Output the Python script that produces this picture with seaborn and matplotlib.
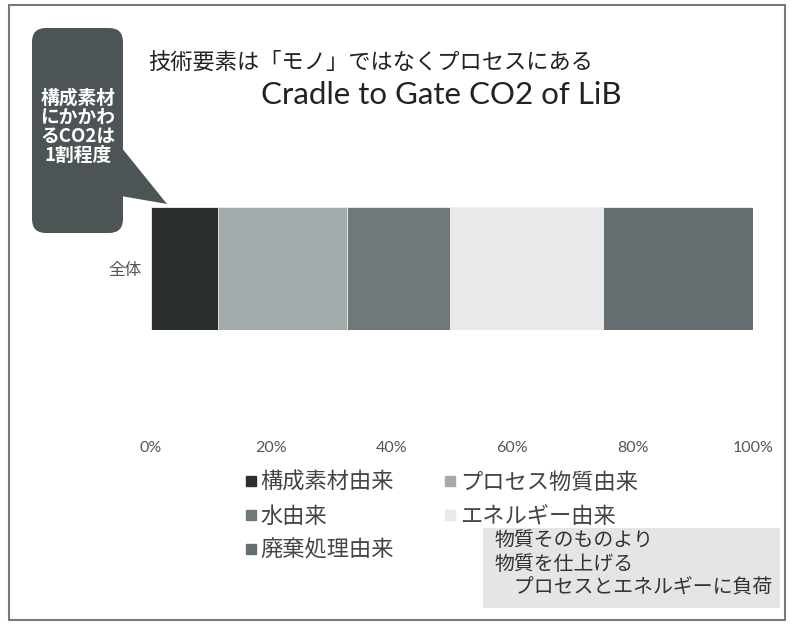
import numpy as np
import pandas as pd
import matplotlib
matplotlib.use("Agg")
import matplotlib.pyplot as plt
import seaborn as sns
from matplotlib.patches import FancyBboxPatch, Polygon, Rectangle
from matplotlib.lines import Line2D

# ---- data ----
categories = ["全体"]
series_names = ["構成素材由来", "プロセス物質由来", "水由来", "エネルギー由来", "廃棄処理由来"]
series_values = [11.1, 21.5, 17.0, 25.4, 25.0]
series_colors = ["#2b302e", "#a3abad", "#6f7979", "#e9e9eb", "#656e70"]
tick_values = [0, 20, 40, 60, 80, 100]
tick_labels = ["0%", "20%", "40%", "60%", "80%", "100%"]
title_jp = "技術要素は「モノ」ではなくプロセスにある"
title_en = "Cradle to Gate CO2 of LiB"
callout_text = "構成素材\nにかかわ\nるCO2は\n1割程度"
note_lines = ["物質そのものより", "物質を仕上げる", "　プロセスとエネルギーに負荷"]

sns.set_theme(style="white")
plt.rcParams["font.family"] = ["Noto Sans CJK JP", "DejaVu Sans"]

W, H = 795, 629
fig = plt.figure(figsize=(W / 100, H / 100), dpi=100)
fig.patch.set_facecolor("white")


def px(x0, y0, x1, y1):
    return [x0 / W, 1 - y1 / H, (x1 - x0) / W, (y1 - y0) / H]


ax = fig.add_axes(px(151, 207, 753, 330))
cum = np.cumsum(series_values)
for i in reversed(range(len(series_values))):
    df = pd.DataFrame({"value": [cum[i]], "cat": categories})
    sns.barplot(data=df, x="value", y="cat", orient="h", color=series_colors[i],
                saturation=1, width=0.8, errorbar=None, ax=ax,
                edgecolor="#f2f2f2", linewidth=0.6)

ax.set_xlim(0, 100)
ax.set_ylim(0.4, -0.4)
ax.set_xticks(tick_values)
ax.set_xticklabels(tick_labels, fontfamily="Lato", fontsize=11.5, color="#555555")
ax.set_yticks([0])
ax.set_yticklabels(categories, fontsize=12, color="#555555")
ax.tick_params(axis="x", length=0, pad=80)
ax.tick_params(axis="y", length=0, pad=7)
ax.set_xlabel("")
ax.set_ylabel("")
sns.despine(ax=ax, left=True, bottom=True)
ax.grid(False)

# legend (column-major order)
order = [0, 2, 4, 1, 3]
handles = [Line2D([], [], marker="s", linestyle="", markersize=7.5,
                  color=series_colors[i]) for i in order]
labels = [series_names[i] for i in order]
leg = fig.legend(handles, labels, ncol=2, loc="upper left",
                 bbox_to_anchor=(233 / W, 1 - 460 / H), frameon=False,
                 fontsize=16.0, handlelength=0.6, handletextpad=0.15,
                 columnspacing=2.2, labelspacing=0.48, borderpad=0)
for t in leg.get_texts():
    t.set_color("#444444")

# overlay for annotations
ov = fig.add_axes([0, 0, 1, 1], zorder=5)
ov.set_xlim(0, W)
ov.set_ylim(H, 0)
ov.axis("off")
ov.patch.set_alpha(0)

# frame
ov.add_patch(Rectangle((9, 5), 776, 615, fill=False, ec="#7a7a7a", lw=1.5))

# titles
ov.text(148, 62, title_jp, fontsize=16, va="center", ha="left", color="#222222")
ov.text(441, 95, title_en, fontsize=22.5, va="center", ha="center",
        fontfamily="Lato", color="#222222")

# callout
callout_color = "#4d5456"
ov.add_patch(FancyBboxPatch((32, 28), 91, 205,
                            boxstyle="round,pad=0,rounding_size=14",
                            fc=callout_color, ec="none"))
ov.add_patch(Polygon([(121, 147), (167, 204), (121, 196)], closed=True,
                     fc=callout_color, ec="none"))
ov.text(78, 127, callout_text, fontsize=13.5, fontweight="bold", color="white",
        ha="center", va="center", linespacing=1.0)

# note box
ov.add_patch(Rectangle((483, 528), 297, 80, fc="#e5e5e7", ec="none"))
for j, (line, y) in enumerate(zip(note_lines, [541, 564, 588])):
    ov.text(494, y, line, fontsize=14.3, color="#333333", ha="left", va="center")

fig.savefig("out.png", dpi=100)
